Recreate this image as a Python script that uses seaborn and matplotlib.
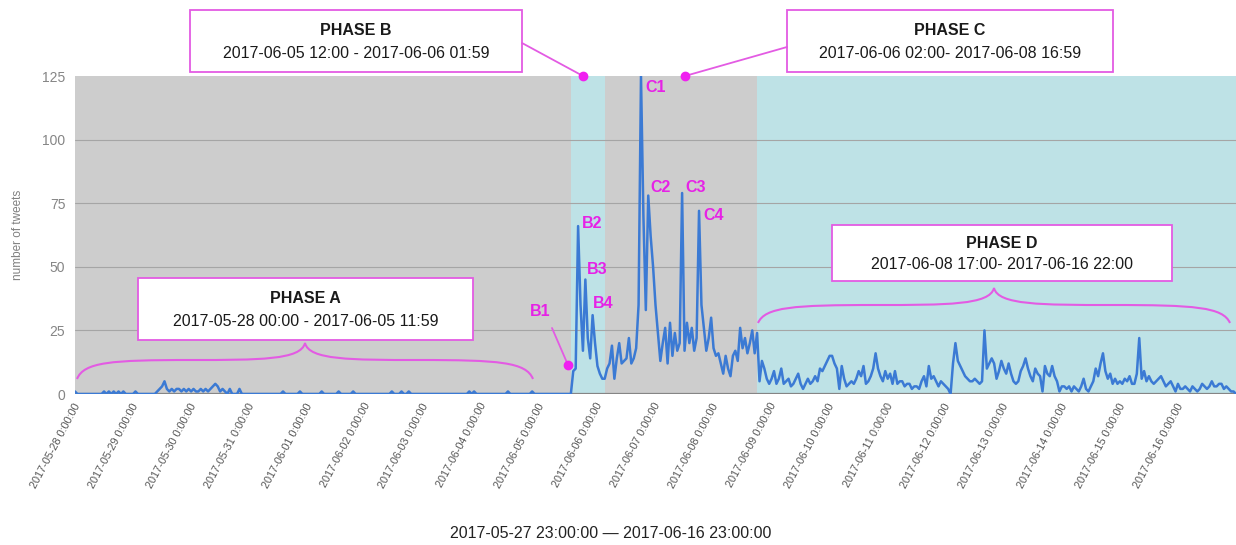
import pandas as pd
import matplotlib.pyplot as plt
from matplotlib.patches import Rectangle, PathPatch
from matplotlib.path import Path
from matplotlib.lines import Line2D
import seaborn as sns

# hourly tweet counts, first value at 2017-05-27 23:00
phase_a_counts = [
    1, 0, 0, 0, 0, 0, 0, 0, 0, 0, 0, 0, 1, 0, 1, 0, 1, 0, 1, 0, 1, 0, 0, 0,
    0, 1, 0, 0, 0, 0, 0, 0, 0, 0, 1, 2, 3, 5, 2, 1, 2, 1, 2, 2, 1, 2, 1, 2,
    1, 2, 1, 1, 2, 1, 2, 1, 2, 3, 4, 3, 1, 2, 1, 0, 2, 0, 0, 0, 2, 0, 0, 0,
    0, 0, 0, 0, 0, 0, 0, 0, 0, 0, 0, 0, 0, 0, 1, 0, 0, 0, 0, 0, 0, 1, 0, 0,
    0, 0, 0, 0, 0, 0, 1, 0, 0, 0, 0, 0, 0, 1, 0, 0, 0, 0, 0, 1, 0, 0, 0, 0,
    0, 0, 0, 0, 0, 0, 0, 0, 0, 0, 0, 1, 0, 0, 0, 1, 0, 0, 1, 0, 0, 0, 0, 0,
    0, 0, 0, 0, 0, 0, 0, 0, 0, 0, 0, 0, 0, 0, 0, 0, 0, 0, 0, 1, 0, 1, 0, 0,
    0, 0, 0, 0, 0, 0, 0, 0, 0, 0, 0, 1, 0, 0, 0, 0, 0, 0, 0, 0, 0, 1, 0, 0,
    0, 0, 0, 0, 0, 0, 0, 0, 0, 0, 0, 0, 0,
]
phase_b_counts = [0, 9, 10, 66, 35, 17, 45, 22, 14, 31, 20, 11, 8, 6]
phase_c_counts = [
    6, 10, 12, 19, 6, 14, 20, 12, 13, 14, 22, 12, 14, 18, 35, 125, 70, 33, 78, 62,
    50, 35, 24, 13, 20, 26, 12, 28, 15, 24, 17, 20, 79, 17, 28, 20, 26, 17, 22, 72,
    35, 26, 17, 22, 30, 18, 15, 16, 12, 8, 15, 10, 7, 15, 17, 13, 26, 18, 22, 16,
    20, 25, 16,
]
phase_d_counts = [
    24, 5, 13, 10, 6, 4, 6, 9, 4, 6, 10, 4, 5, 6, 3, 4, 6, 8, 4, 2, 4, 6, 4, 5,
    7, 5, 10, 9, 11, 13, 15, 15, 12, 10, 2, 11, 6, 3, 4, 5, 4, 6, 9, 7, 11, 4, 5, 7,
    10, 16, 10, 7, 5, 9, 6, 8, 4, 9, 4, 5, 5, 3, 4, 4, 2, 3, 3, 2, 5, 7, 3, 11,
    6, 7, 5, 3, 5, 4, 3, 2, 0, 12, 20, 13, 11, 9, 7, 6, 5, 5, 6, 5, 4, 5, 25, 10,
    12, 14, 12, 6, 9, 13, 10, 8, 12, 8, 5, 4, 5, 9, 11, 14, 10, 7, 5, 10, 8, 7, 1, 11,
    8, 7, 11, 7, 5, 1, 3, 3, 2, 3, 1, 3, 2, 1, 3, 6, 2, 1, 3, 5, 10, 7, 12, 16,
    9, 6, 8, 4, 6, 4, 5, 4, 6, 5, 7, 4, 4, 8, 22, 6, 9, 5, 7, 5, 4, 5, 6, 7,
    5, 3, 4, 5, 3, 1, 4, 2, 2, 3, 2, 1, 3, 2, 1, 2, 4, 3, 2, 3, 5, 3, 3, 4,
    4, 2, 3, 2, 1, 1, 0,
]

phase_names = ['PHASE A', 'PHASE B', 'PHASE C', 'PHASE D']
phase_starts = ['2017-05-27 23:00', '2017-06-05 12:00', '2017-06-06 02:00', '2017-06-08 17:00']
phase_ends = ['2017-06-05 12:00', '2017-06-06 02:00', '2017-06-08 17:00', '2017-06-16 23:00']
phase_ranges = ['2017-05-28 00:00 - 2017-06-05 11:59',
                '2017-06-05 12:00 - 2017-06-06 01:59',
                '2017-06-06 02:00- 2017-06-08 16:59',
                '2017-06-08 17:00- 2017-06-16 22:00']
phase_colors = ['#cdcdcd', '#bee2e6', '#cdcdcd', '#bee2e6']
y_ticks = [0, 25, 50, 75, 100, 125]
tick_days = pd.date_range('2017-05-28', '2017-06-16', freq='D')
peak_labels = ['B1', 'B2', 'B3', 'B4', 'C1', 'C2', 'C3', 'C4']

counts = phase_a_counts + phase_b_counts + phase_c_counts + phase_d_counts
df = pd.DataFrame({'time': pd.date_range(phase_starts[0], periods=len(counts), freq='h'),
                   'tweets': counts})

sns.set_style('white')
plt.rcParams['font.family'] = ['Liberation Sans', 'DejaVu Sans']

W, H = 1236, 545
fig = plt.figure(figsize=(W / 100, H / 100), dpi=100)
ax = fig.add_axes([75 / W, 1 - 394 / H, (W - 75) / W, (394 - 76) / H])


def fx(x):
    return x / W


def fy(y):
    return 1 - y / H


for s, e, c in zip(phase_starts, phase_ends, phase_colors):
    ax.axvspan(pd.Timestamp(s), pd.Timestamp(e), color=c, lw=0, zorder=0)
for v in y_ticks[1:-1]:
    ax.axhline(v, color='#a5a5a5', lw=0.8, zorder=1)
ax.axhline(0, color='#858585', lw=1.6, zorder=1)

sns.lineplot(data=df, x='time', y='tweets', ax=ax, color='#3b7ad4', linewidth=1.8, zorder=3)

ax.set_xlim(pd.Timestamp(phase_starts[0]), pd.Timestamp(phase_ends[-1]))
ax.set_ylim(0, 125)
sns.despine(ax=ax, left=True, bottom=True)
ax.set_yticks(y_ticks)
ax.set_yticklabels([str(v) for v in y_ticks], color='#858585', fontsize=10)
ax.set_xticks(tick_days)
ax.set_xticklabels([d.strftime('%Y-%m-%d') + ' 0:00:00' for d in tick_days],
                   rotation=62, ha='right', va='center', rotation_mode='anchor',
                   color='#555555', fontsize=7.8)
ax.tick_params(axis='y', length=0, pad=7)
ax.tick_params(axis='x', length=0, pad=7)
ax.set_xlabel('')
ax.set_ylabel('')
ax.grid(False)

fig.text(fx(18), fy(235), 'number of tweets', rotation=90, ha='center', va='center',
         color='#808080', fontsize=8.5)
fig.text(fx(611), fy(533), '2017-05-27 23:00:00 \u2014 2017-06-16 23:00:00',
         ha='center', va='center', color='#222222', fontsize=11.5)

box_color = '#e35be3'
label_color = '#e622e6'


def phase_box(x0, y0, x1, y1, title, subtitle):
    fig.add_artist(Rectangle((fx(x0), fy(y1)), (x1 - x0) / W, (y1 - y0) / H,
                             transform=fig.transFigure, fc='white', ec=box_color,
                             lw=1.3, zorder=5))
    xm = (x0 + x1) / 2
    fig.text(fx(xm), fy(y0 + (y1 - y0) * 0.33), title, ha='center', va='center',
             fontsize=11.5, fontweight='bold', color='#1a1a1a', zorder=6)
    fig.text(fx(xm), fy(y0 + (y1 - y0) * 0.7), subtitle, ha='center', va='center',
             fontsize=11.5, color='#1a1a1a', zorder=6)


def brace(x0, x1, yb, yf, yt):
    xm = (x0 + x1) / 2
    L = xm - x0
    pts = [(x0, yb), (x0 + 0.03 * L, yf + 2), (x0 + 0.15 * L, yf), (x0 + 0.5 * L, yf),
           (xm - 0.2 * L, yf), (xm - 4, yf), (xm, yt),
           (xm + 4, yf), (xm + 0.2 * L, yf), (xm + 0.5 * L, yf),
           (x1 - 0.15 * L, yf), (x1 - 0.03 * L, yf + 2), (x1, yb)]
    codes = [Path.MOVETO] + [Path.CURVE4] * 12
    path = Path([(fx(x), fy(y)) for x, y in pts], codes)
    fig.add_artist(PathPatch(path, transform=fig.transFigure, fc='none',
                             ec=box_color, lw=1.5, zorder=5))


def pointer(x0, y0, x1, y1):
    fig.add_artist(Line2D([fx(x0), fx(x1)], [fy(y0), fy(y1)], transform=fig.transFigure,
                          color=box_color, lw=1.3, zorder=5))
    fig.add_artist(Line2D([fx(x1)], [fy(y1)], transform=fig.transFigure, marker='o',
                          markersize=6, color='#f020f0', lw=0, zorder=6))


phase_box(138, 278, 473, 340, phase_names[0], phase_ranges[0])
phase_box(190, 10, 522, 72, phase_names[1], phase_ranges[1])
phase_box(787, 10, 1113, 72, phase_names[2], phase_ranges[2])
phase_box(832, 225, 1172, 281, phase_names[3], phase_ranges[3])

brace(77, 533, 379, 360, 343)
brace(758, 1230, 323, 305, 288)

pointer(522, 43, 583, 76)
pointer(787, 47, 685, 76)
pointer(552, 328, 568, 365)

label_pos = [(540, 311), (592, 224), (597, 270), (603, 303),
             (656, 87), (661, 187), (696, 187), (714, 216)]
for name, (x, y) in zip(peak_labels, label_pos):
    fig.text(fx(x), fy(y), name, ha='center', va='center', fontsize=11.5,
             fontweight='bold', color=label_color, zorder=6)

fig.savefig('out.png', dpi=100, facecolor='white')
